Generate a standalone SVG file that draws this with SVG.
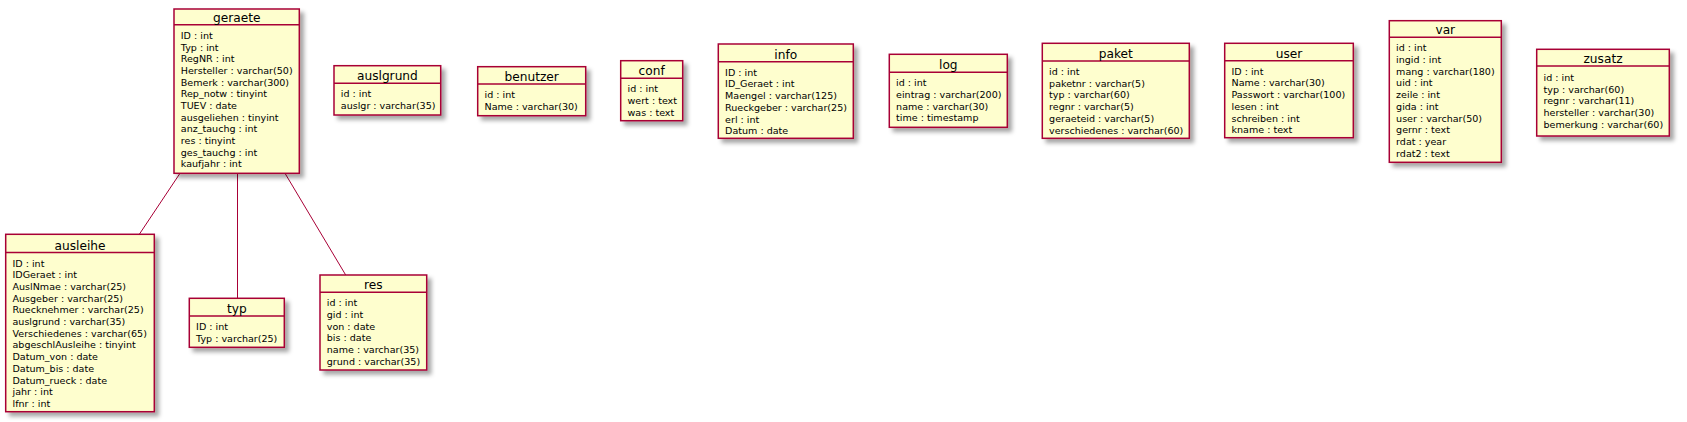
<svg xmlns="http://www.w3.org/2000/svg" width="1687" height="422" viewBox="0 0 1687 422">
<defs>
<filter id="sh" x="-10%" y="-10%" width="130%" height="130%">
<feGaussianBlur in="SourceAlpha" stdDeviation="2"/>
<feOffset dx="4" dy="4" result="b"/>
<feFlood flood-color="#000" flood-opacity="0.35"/>
<feComposite in2="b" operator="in" result="s"/>
<feMerge><feMergeNode in="s"/><feMergeNode in="SourceGraphic"/></feMerge>
</filter>
<style>
.box{fill:#FEFECE;stroke:#A80036;stroke-width:1.5;filter:url(#sh)}
.div{stroke:#A80036;stroke-width:1.5}
.t{font-family:"DejaVu Sans",sans-serif;font-size:12.2px;fill:#000;text-anchor:middle}
.a{font-family:"DejaVu Sans",sans-serif;font-size:9.55px;fill:#000}
.c{stroke:#A80036;stroke-width:1;fill:none}
</style>
</defs>
<rect width="1687" height="422" fill="#fff"/>
<g id="connectors">
<line class="c" x1="180" y1="173.3" x2="139.3" y2="234.3"/>
<line class="c" x1="237.5" y1="173.3" x2="237.5" y2="298.3"/>
<line class="c" x1="285" y1="173.3" x2="345.7" y2="275"/>
</g>
<g id="geraete">
<rect class="box" x="174" y="9" width="125.3" height="164.3"/>
<line class="div" x1="174" y1="24.8" x2="299.3" y2="24.8"/>
<text class="t" x="236.7" y="21.8">geraete</text>
<text class="a" x="180.8" y="38.8"><tspan x="180.8">ID : int</tspan><tspan x="180.8" dy="11.7">Typ : int</tspan><tspan x="180.8" dy="11.7">RegNR : int</tspan><tspan x="180.8" dy="11.7">Hersteller : varchar(50)</tspan><tspan x="180.8" dy="11.7">Bemerk : varchar(300)</tspan><tspan x="180.8" dy="11.7">Rep_notw : tinyint</tspan><tspan x="180.8" dy="11.7">TUEV : date</tspan><tspan x="180.8" dy="11.7">ausgeliehen : tinyint</tspan><tspan x="180.8" dy="11.7">anz_tauchg : int</tspan><tspan x="180.8" dy="11.7">res : tinyint</tspan><tspan x="180.8" dy="11.7">ges_tauchg : int</tspan><tspan x="180.8" dy="11.7">kaufjahr : int</tspan></text>
</g>
<g id="ausleihe">
<rect class="box" x="5.7" y="234.3" width="148.6" height="177.4"/>
<line class="div" x1="5.7" y1="252.5" x2="154.3" y2="252.5"/>
<text class="t" x="80" y="249.5">ausleihe</text>
<text class="a" x="12.5" y="266.5"><tspan x="12.5">ID : int</tspan><tspan x="12.5" dy="11.7">IDGeraet : int</tspan><tspan x="12.5" dy="11.7">AuslNmae : varchar(25)</tspan><tspan x="12.5" dy="11.7">Ausgeber : varchar(25)</tspan><tspan x="12.5" dy="11.7">Ruecknehmer : varchar(25)</tspan><tspan x="12.5" dy="11.7">auslgrund : varchar(35)</tspan><tspan x="12.5" dy="11.7">Verschiedenes : varchar(65)</tspan><tspan x="12.5" dy="11.7">abgeschlAusleihe : tinyint</tspan><tspan x="12.5" dy="11.7">Datum_von : date</tspan><tspan x="12.5" dy="11.7">Datum_bis : date</tspan><tspan x="12.5" dy="11.7">Datum_rueck : date</tspan><tspan x="12.5" dy="11.7">jahr : int</tspan><tspan x="12.5" dy="11.7">lfnr : int</tspan></text>
</g>
<g id="typ">
<rect class="box" x="189.3" y="298.3" width="95" height="49"/>
<line class="div" x1="189.3" y1="316" x2="284.3" y2="316"/>
<text class="t" x="236.8" y="313">typ</text>
<text class="a" x="196.1" y="330"><tspan x="196.1">ID : int</tspan><tspan x="196.1" dy="11.7">Typ : varchar(25)</tspan></text>
</g>
<g id="res">
<rect class="box" x="320" y="275" width="106.7" height="95"/>
<line class="div" x1="320" y1="292.3" x2="426.7" y2="292.3"/>
<text class="t" x="373.4" y="289.3">res</text>
<text class="a" x="326.8" y="306.3"><tspan x="326.8">id : int</tspan><tspan x="326.8" dy="11.7">gid : int</tspan><tspan x="326.8" dy="11.7">von : date</tspan><tspan x="326.8" dy="11.7">bis : date</tspan><tspan x="326.8" dy="11.7">name : varchar(35)</tspan><tspan x="326.8" dy="11.7">grund : varchar(35)</tspan></text>
</g>
<g id="auslgrund">
<rect class="box" x="334" y="65.7" width="106.7" height="49.3"/>
<line class="div" x1="334" y1="83.3" x2="440.7" y2="83.3"/>
<text class="t" x="387.4" y="80.3">auslgrund</text>
<text class="a" x="340.8" y="97.3"><tspan x="340.8">id : int</tspan><tspan x="340.8" dy="11.7">auslgr : varchar(35)</tspan></text>
</g>
<g id="benutzer">
<rect class="box" x="477.7" y="66.7" width="108" height="49"/>
<line class="div" x1="477.7" y1="84" x2="585.7" y2="84"/>
<text class="t" x="531.7" y="81">benutzer</text>
<text class="a" x="484.5" y="98"><tspan x="484.5">id : int</tspan><tspan x="484.5" dy="11.7">Name : varchar(30)</tspan></text>
</g>
<g id="conf">
<rect class="box" x="620.7" y="60.7" width="62" height="60"/>
<line class="div" x1="620.7" y1="78.3" x2="682.7" y2="78.3"/>
<text class="t" x="651.7" y="75.3">conf</text>
<text class="a" x="627.5" y="92.3"><tspan x="627.5">id : int</tspan><tspan x="627.5" dy="11.7">wert : text</tspan><tspan x="627.5" dy="11.7">was : text</tspan></text>
</g>
<g id="info">
<rect class="box" x="718.3" y="44" width="135" height="94.3"/>
<line class="div" x1="718.3" y1="61.7" x2="853.3" y2="61.7"/>
<text class="t" x="785.8" y="58.7">info</text>
<text class="a" x="725.1" y="75.7"><tspan x="725.1">ID : int</tspan><tspan x="725.1" dy="11.7">ID_Geraet : int</tspan><tspan x="725.1" dy="11.7">Maengel : varchar(125)</tspan><tspan x="725.1" dy="11.7">Rueckgeber : varchar(25)</tspan><tspan x="725.1" dy="11.7">erl : int</tspan><tspan x="725.1" dy="11.7">Datum : date</tspan></text>
</g>
<g id="log">
<rect class="box" x="889.3" y="54.3" width="118" height="73"/>
<line class="div" x1="889.3" y1="72.3" x2="1007.3" y2="72.3"/>
<text class="t" x="948.3" y="69.3">log</text>
<text class="a" x="896.1" y="86.3"><tspan x="896.1">id : int</tspan><tspan x="896.1" dy="11.7">eintrag : varchar(200)</tspan><tspan x="896.1" dy="11.7">name : varchar(30)</tspan><tspan x="896.1" dy="11.7">time : timestamp</tspan></text>
</g>
<g id="paket">
<rect class="box" x="1042.3" y="43.3" width="147" height="95"/>
<line class="div" x1="1042.3" y1="61" x2="1189.3" y2="61"/>
<text class="t" x="1115.8" y="58">paket</text>
<text class="a" x="1049.1" y="75"><tspan x="1049.1">id : int</tspan><tspan x="1049.1" dy="11.7">paketnr : varchar(5)</tspan><tspan x="1049.1" dy="11.7">typ : varchar(60)</tspan><tspan x="1049.1" dy="11.7">regnr : varchar(5)</tspan><tspan x="1049.1" dy="11.7">geraeteid : varchar(5)</tspan><tspan x="1049.1" dy="11.7">verschiedenes : varchar(60)</tspan></text>
</g>
<g id="user">
<rect class="box" x="1224.7" y="43.3" width="128.6" height="94.4"/>
<line class="div" x1="1224.7" y1="60.7" x2="1353.3" y2="60.7"/>
<text class="t" x="1289" y="57.7">user</text>
<text class="a" x="1231.5" y="74.7"><tspan x="1231.5">ID : int</tspan><tspan x="1231.5" dy="11.7">Name : varchar(30)</tspan><tspan x="1231.5" dy="11.7">Passwort : varchar(100)</tspan><tspan x="1231.5" dy="11.7">lesen : int</tspan><tspan x="1231.5" dy="11.7">schreiben : int</tspan><tspan x="1231.5" dy="11.7">kname : text</tspan></text>
</g>
<g id="var">
<rect class="box" x="1389.3" y="20.7" width="112" height="141.6"/>
<line class="div" x1="1389.3" y1="37.3" x2="1501.3" y2="37.3"/>
<text class="t" x="1445.3" y="34.3">var</text>
<text class="a" x="1396.1" y="51.3"><tspan x="1396.1">id : int</tspan><tspan x="1396.1" dy="11.7">ingid : int</tspan><tspan x="1396.1" dy="11.7">mang : varchar(180)</tspan><tspan x="1396.1" dy="11.7">uid : int</tspan><tspan x="1396.1" dy="11.7">zeile : int</tspan><tspan x="1396.1" dy="11.7">gida : int</tspan><tspan x="1396.1" dy="11.7">user : varchar(50)</tspan><tspan x="1396.1" dy="11.7">gernr : text</tspan><tspan x="1396.1" dy="11.7">rdat : year</tspan><tspan x="1396.1" dy="11.7">rdat2 : text</tspan></text>
</g>
<g id="zusatz">
<rect class="box" x="1536.7" y="49.3" width="132.6" height="86.7"/>
<line class="div" x1="1536.7" y1="66" x2="1669.3" y2="66"/>
<text class="t" x="1603" y="63">zusatz</text>
<text class="a" x="1543.5" y="81"><tspan x="1543.5">id : int</tspan><tspan x="1543.5" dy="11.7">typ : varchar(60)</tspan><tspan x="1543.5" dy="11.7">regnr : varchar(11)</tspan><tspan x="1543.5" dy="11.7">hersteller : varchar(30)</tspan><tspan x="1543.5" dy="11.7">bemerkung : varchar(60)</tspan></text>
</g>
</svg>
